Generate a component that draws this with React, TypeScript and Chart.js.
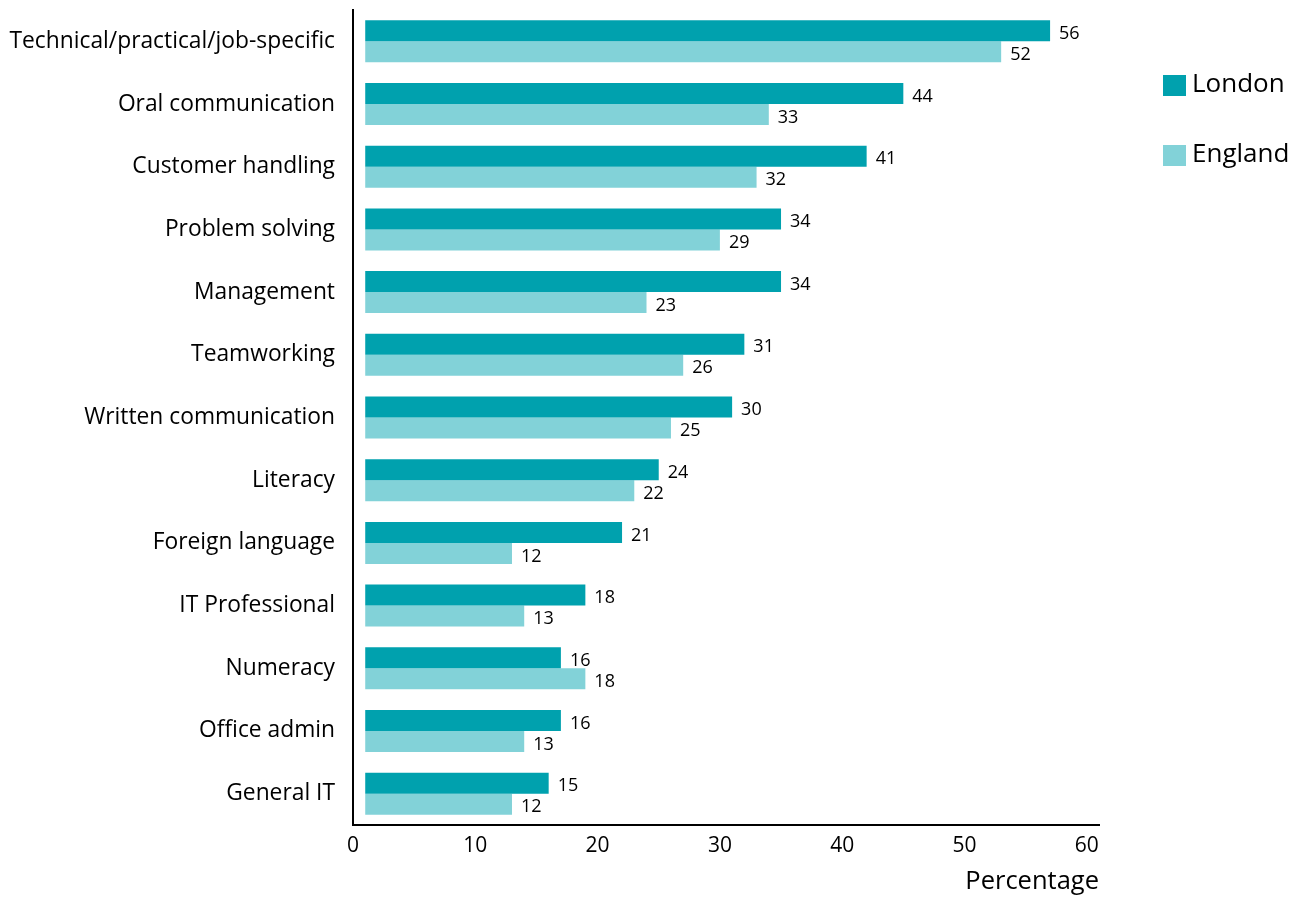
import React, { useEffect, useRef } from "react";
import { Chart, registerables } from "chart.js";

Chart.register(...registerables);

const categories = [
  "Technical/practical/job-specific",
  "Oral communication",
  "Customer handling",
  "Problem solving",
  "Management",
  "Teamworking",
  "Written communication",
  "Literacy",
  "Foreign language",
  "IT Professional",
  "Numeracy",
  "Office admin",
  "General IT",
];
const londonValues = [56, 44, 41, 34, 34, 31, 30, 24, 21, 18, 16, 16, 15];
const englandValues = [52, 33, 32, 29, 23, 26, 25, 22, 12, 13, 18, 13, 12];
const tickValues = [0, 10, 20, 30, 40, 50, 60];
const seriesNames = ["London", "England"];

const LONDON = "#00A1AE";
const ENGLAND = "#82D2D8";
const FONT = "'Open Sans', 'Noto Sans', sans-serif";

const valueLabels = {
  id: "valueLabels",
  afterDatasetsDraw(chart: any) {
    const ctx = chart.ctx;
    ctx.save();
    ctx.font = `18px ${FONT}`;
    ctx.fillStyle = "#000";
    ctx.textAlign = "left";
    ctx.textBaseline = "middle";
    chart.data.datasets.forEach((ds: any, di: number) => {
      const meta = chart.getDatasetMeta(di);
      meta.data.forEach((el: any, i: number) => {
        ctx.fillText(String(ds.data[i]), el.x + 9, el.y + 3);
      });
    });
    ctx.restore();
  },
};

const sideLegend = {
  id: "sideLegend",
  afterDraw(chart: any) {
    const ctx = chart.ctx;
    ctx.save();
    ctx.font = `26px ${FONT}`;
    ctx.textAlign = "left";
    ctx.textBaseline = "middle";
    const colors = [LONDON, ENGLAND];
    seriesNames.forEach((name, i) => {
      const y = 85 + i * 70;
      ctx.fillStyle = colors[i];
      ctx.fillRect(1163, y - 10, 23, 21);
      ctx.fillStyle = "#000";
      ctx.fillText(name, 1192, y);
    });
    ctx.restore();
  },
};

export default function App() {
  const ref = useRef<HTMLCanvasElement>(null);
  useEffect(() => {
    if (!ref.current) return;
    const chart = new Chart(ref.current, {
      type: "bar",
      data: {
        labels: categories,
        datasets: [
          {
            label: seriesNames[0],
            data: londonValues,
            backgroundColor: LONDON,
            xAxisID: "xBar",
            barPercentage: 1,
            categoryPercentage: 0.67,
          },
          {
            label: seriesNames[1],
            data: englandValues,
            backgroundColor: ENGLAND,
            xAxisID: "xBar",
            barPercentage: 1,
            categoryPercentage: 0.67,
          },
        ],
      },
      options: {
        indexAxis: "y",
        animation: false,
        responsive: true,
        maintainAspectRatio: false,
        layout: { padding: { top: 10, right: 205, left: 0, bottom: 0 } },
        plugins: { legend: { display: false }, tooltip: { enabled: false } },
        scales: {
          x: {
            type: "linear",
            position: "bottom",
            min: 0,
            max: 61,
            grid: { display: false, drawTicks: false },
            border: { display: true, color: "#000", width: 2 },
            ticks: { font: { family: FONT, size: 21 }, color: "#000", padding: 8 },
            afterBuildTicks: (s: any) => {
              s.ticks = tickValues.map((v) => ({ value: v }));
            },
            afterFit: (s: any) => {
              s.height = 72;
            },
            title: {
              display: true,
              text: "Percentage",
              align: "end",
              color: "#000",
              font: { family: FONT, size: 25.5 },
              padding: 0,
            },
          },
          xBar: { type: "linear", min: -1, max: 60, display: false },
          y: {
            grid: { display: false, drawTicks: false },
            border: { display: true, color: "#000", width: 2 },
            ticks: { font: { family: FONT, size: 22.8 }, color: "#000", padding: 18 },
            afterFit: (s: any) => {
              s.width = 353;
              s.paddingTop = 0;
              s.paddingBottom = 0;
            },
          },
        },
      } as any,
      plugins: [valueLabels, sideLegend],
    });
    return () => chart.destroy();
  }, []);
  return (
    <div style={{ position: "absolute", left: 0, top: 0, width: 1304, height: 897 }}>
      <canvas ref={ref} />
    </div>
  );
}
